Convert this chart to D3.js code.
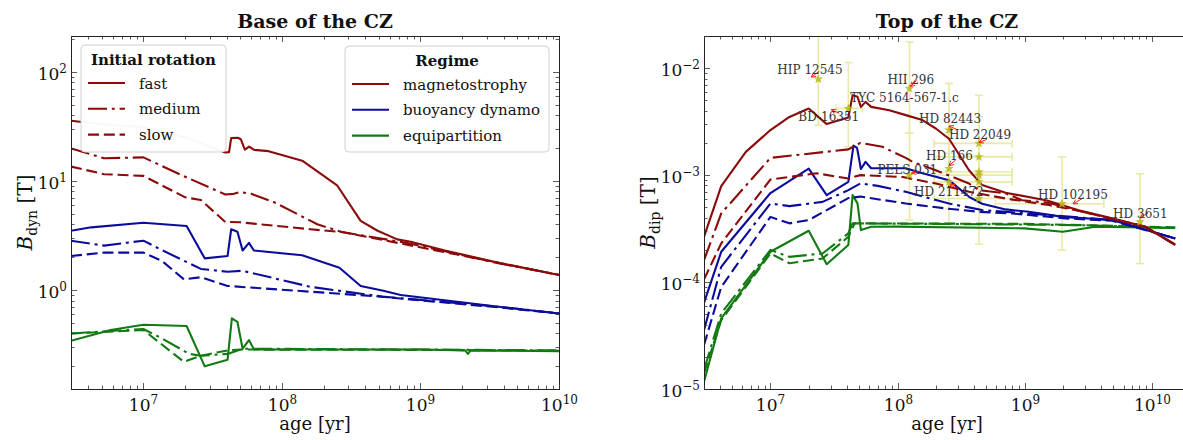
<!DOCTYPE html>
<html><head><meta charset="utf-8">
<script src="https://cdn.jsdelivr.net/npm/d3@7"></script>
<style>body{margin:0;background:#fff;} text{font-family:"DejaVu Serif",serif;fill:#111;}</style>
</head><body><svg id="c" width="1183" height="440"></svg>
<script>
// ---------------- DATA ----------------
// Left panel: base of the CZ, B_dyn [T] vs age [yr]
const baseMagFast = [[3e6,35.5],[5e6,33],[1e7,31],[2e7,25],[3.9e7,18.2],[4.15e7,18.3],[4.3e7,24.6],[4.8e7,24.8],[5.05e7,24],[5.4e7,19.3],[5.8e7,20.6],[6.3e7,19.2],[8e7,18.7],[1.4e8,15.3],[2.5e8,9.1],[3.7e8,4.3],[4.9e8,3.49],[6.8e8,2.91],[8.5e8,2.77],[1.5e9,2.3],[3.8e9,1.76],[1e10,1.37]];
const baseMagMed  = [[3e6,19.8],[5.2e6,16.1],[1e7,16.4],[2e7,10.9],[3.9e7,7.5],[4.5e7,7.6],[5e7,7.9],[6e7,7.6],[8.7e7,6.4],[1.8e8,4.0],[2.7e8,3.4],[8e8,2.7],[3.8e9,1.74],[1e10,1.38]];
const baseMagSlow = [[3e6,13.5],[5.2e6,11.5],[1e7,11.1],[2e7,7.06],[2.6e7,6.67],[3.9e7,4.2],[5e7,4.17],[1.6e8,3.6],[2.7e8,3.4],[8e8,2.6],[3.8e9,1.76],[1e10,1.37]];
const baseBuoFast = [[3e6,3.49],[4.2e6,3.75],[1e7,4.13],[2.05e7,3.86],[2.77e7,1.95],[4.05e7,2.05],[4.3e7,3.6],[4.77e7,3.42],[5.2e7,2.3],[5.78e7,2.7],[6.27e7,2.3],[1.4e8,2.08],[2.6e8,1.6],[3.7e8,1.09],[5.4e8,0.985],[7.2e8,0.9],[3.8e9,0.7],[1e10,0.61]];
const baseBuoMed  = [[3e6,2.83],[5.2e6,2.55],[1e7,2.83],[1.36e7,2.32],[2.6e7,1.56],[4.05e7,1.47],[5.2e7,1.5],[1.6e8,1.07],[5.3e8,0.87],[3.8e9,0.7],[1e10,0.61]];
const baseBuoSlow = [[3e6,2.05],[5.2e6,2.2],[1e7,2.2],[1.36e7,1.85],[1.96e7,1.25],[2.6e7,1.31],[4.05e7,1.09],[1.6e8,0.965],[4.6e8,0.88],[3.8e9,0.69],[1e10,0.61]];
const baseEqFast  = [[3e6,0.343],[5.8e6,0.43],[1e7,0.48],[2.05e7,0.468],[2.77e7,0.2],[4.05e7,0.23],[4.35e7,0.55],[4.77e7,0.51],[5.2e7,0.29],[5.78e7,0.348],[6.27e7,0.286],[3e8,0.285],[1e9,0.285],[2.1e9,0.28],[2.2e9,0.26],[2.3e9,0.28],[1e10,0.275]];
const baseEqMed   = [[3e6,0.4],[1e7,0.44],[1.36e7,0.36],[2.14e7,0.26],[2.6e7,0.25],[4.05e7,0.26],[5.2e7,0.29],[1e9,0.285],[1e10,0.28]];
const baseEqSlow  = [[3e6,0.4],[1e7,0.43],[1.96e7,0.22],[2.6e7,0.25],[4.05e7,0.28],[5.2e7,0.285],[1e9,0.283],[1e10,0.278]];

// Right panel: top of the CZ, B_dip [T] vs age [yr]
const topMagFast = [[3e6,2.65e-4],[4.1e6,7.9e-4],[6.4e6,1.65e-3],[1e7,2.64e-3],[1.41e7,3.5e-3],[2e7,4.2e-3],[2.77e7,3.0e-3],[4.1e7,3.46e-3],[4.43e7,5.6e-3],[4.84e7,5.4e-3],[5.15e7,4.35e-3],[5.6e7,4.84e-3],[6.2e7,4.35e-3],[8.6e7,4.05e-3],[1.16e8,3.64e-3],[1.57e8,3.27e-3],[2e8,2.73e-3],[2.54e8,2.19e-3],[3.65e8,1.11e-3],[4.63e8,8.07e-4],[7.08e8,6.84e-4],[1.5e9,5.8e-4],[2.66e9,4.7e-4],[4.87e9,3.94e-4],[8.9e9,3.29e-4],[1.53e10,2.22e-4]];
const topMagMed  = [[3e6,1.6e-4],[4.1e6,4.38e-4],[1e7,1.45e-3],[4.1e7,1.74e-3],[5.1e7,2.0e-3],[7.6e7,1.84e-3],[1.16e8,1.45e-3],[1.31e8,1.33e-3],[2e8,1.11e-3],[3.65e8,8.35e-4],[4.37e8,7.24e-4],[7.08e8,6.75e-4],[9.56e8,5.83e-4],[1.55e9,5.5e-4],[2.66e9,4.65e-4],[4.87e9,3.9e-4],[8.9e9,3.3e-4],[1.53e10,2.25e-4]];
const topMagSlow = [[3e6,1.06e-4],[4.1e6,2.3e-4],[1e7,9.1e-4],[2.3e7,1.04e-3],[4.1e7,9.3e-4],[5.1e7,1.0e-3],[1.1e8,9.6e-4],[2e8,8.35e-4],[3.65e8,6.98e-4],[7.08e8,6.05e-4],[1.55e9,5.25e-4],[2.66e9,4.65e-4],[4.87e9,3.9e-4],[8.9e9,3.3e-4],[1.53e10,2.22e-4]];
const topBuoFast = [[3e6,6.4e-5],[4.1e6,1.92e-4],[1e7,6.8e-4],[2e7,1.15e-3],[2.77e7,6.5e-4],[4.1e7,8.65e-4],[4.5e7,1.89e-3],[4.8e7,1.8e-3],[5.15e7,1.14e-3],[5.6e7,1.33e-3],[6.2e7,1.16e-3],[1.16e8,1.16e-3],[1.57e8,1.04e-3],[2.54e8,8.97e-4],[3.65e8,6.27e-4],[4.63e8,5.4e-4],[7.08e8,4.78e-4],[1.08e9,4.54e-4],[2e9,4.07e-4],[4.87e9,3.8e-4],[1.53e10,2.56e-4]];
const topBuoMed  = [[3e6,3.55e-5],[4.1e6,1.39e-4],[1e7,5.43e-4],[1.41e7,5.13e-4],[2.57e7,5.62e-4],[4.1e7,7.24e-4],[5.1e7,8.36e-4],[7e7,7.93e-4],[1.16e8,6.98e-4],[2.54e8,5.43e-4],[4.63e8,4.71e-4],[1.55e9,4.23e-4],[4.87e9,3.8e-4],[1.53e10,2.56e-4]];
const topBuoSlow = [[3e6,2.58e-5],[4.1e6,9.0e-5],[1e7,4.07e-4],[1.41e7,3.54e-4],[2e7,3.8e-4],[4.1e7,6.1e-4],[5.1e7,6.3e-4],[1.16e8,5.43e-4],[2.39e8,4.88e-4],[4.37e8,4.54e-4],[7.98e8,4.38e-4],[2.09e9,3.94e-4],[4.87e9,3.75e-4],[1.53e10,2.56e-4]];
const topEqFast  = [[3e6,1.17e-5],[4.1e6,4.58e-5],[1e7,1.92e-4],[2e7,3.02e-4],[2.77e7,1.47e-4],[4.1e7,2.22e-4],[4.43e7,6.5e-4],[4.84e7,5.44e-4],[5.15e7,3.06e-4],[6.2e7,3.29e-4],[1e8,3.3e-4],[1e9,3.18e-4],[2e9,2.95e-4],[3.6e9,3.29e-4],[1.53e10,3.2e-4]];
const topEqMed   = [[3e6,1.51e-5],[4.1e6,5.1e-5],[1e7,2.0e-4],[1.41e7,1.72e-4],[2.57e7,1.85e-4],[4.1e7,2.85e-4],[4.43e7,3.54e-4],[1e9,3.45e-4],[3e9,3.4e-4],[1.53e10,3.2e-4]];
const topEqSlow  = [[3e6,1.4e-5],[4.1e6,4.4e-5],[1e7,1.85e-4],[1.41e7,1.5e-4],[2.57e7,1.66e-4],[4.1e7,2.65e-4],[4.6e7,3.54e-4],[1e9,3.5e-4],[3e9,3.4e-4],[1.53e10,3.25e-4]];

// Observed stars (right panel)
const starNames  = ["HIP 12545","BD-16351","TYC 5164-567-1.c","HII 296","PELS 031","HD 82443","HD 166","HD 211472","HD 22049","","","","","","HD 102195","HD 3651"];
const starAge    = [2.38e7, 4.1e7, 4.1e7, 1.24e8, 1.24e8, 2.54e8, 2.54e8, 2.54e8, 4.37e8, 4.37e8, 4.37e8, 4.37e8, 4.37e8, 4.37e8, 1.97e9, 8.1e9];
const starB      = [7.9e-3, 4.2e-3, 4.2e-3, 6.45e-3, 1.0e-3, 2.64e-3, 1.15e-3, 8.6e-4, 1.98e-3, 1.48e-3, 1.07e-3, 1.0e-3, 8.65e-4, 6.05e-4, 5.4e-4, 3.66e-4];
const starBlo    = [2.93e-3, 1.84e-3, null, 2.47e-3, 3.8e-4, 1.1e-3, 4.8e-4, 3.55e-4, 6e-4, 2.26e-4, null, null, null, null, 1.99e-4, 1.49e-4];
const starBhi    = [3e-2, 1.13e-2, null, 1.76e-2, 2.47e-3, 7.2e-3, 2.5e-3, 1.6e-3, 5.6e-3, 3.5e-3, null, null, null, null, 1.48e-3, 1.03e-3];
const starAgeLo  = [null, 3.3e7, null, null, null, null, null, null, 1.94e8, 1.94e8, 1.94e8, 1.94e8, 1.94e8, 1.94e8, 5.9e8, null];
const starAgeHi  = [null, 5.3e7, null, null, null, null, null, null, 7.98e8, 7.98e8, 7.98e8, 7.98e8, 7.98e8, 7.98e8, 4.2e9, null];

// Legend text
const rotationLabels = ["fast","medium","slow"];
const regimeLabels   = ["magnetostrophy","buoyancy dynamo","equipartition"];

// --------------- LAYOUT / STYLE ---------------
// label placement offsets (px from star) and arrow offsets [headDx,headDy,tailDx,tailDy]
const labelOffsets = [[-41,-5],[-50,13],[2,-6],[-22,-5],[-32,-1],[-30,-7],[-23,-9],[-35,14],[-30,-4],null,null,null,null,null,[-24,-5],[-27,-4]];
const arrowOffsets = [[-7,-2,1,-8],[-17,1,-9,5],null,[1,-2,7,-8],[2,-2,10,-4],[0,-4,7,-1],[0,-3,7,-9],[1,2,7,6],[0,-1,8,-4],null,null,null,null,null,[11,0,20,-5],[0,-4,8,-9]];

const RED="#8b0a0a", BLUE="#0c0c9c", GREEN="#137a13";
const DASH={fast:null, medium:"19,4.8,3,4.8", slow:"11,4.8"};
const svg=d3.select("#c");

const panels=[
 {x0:71,x1:559,y0:36,y1:389,xd:[3e6,1e10],yd:[0.124,212],title:"Base of the CZ",sub:"dyn",labX:32,
  curves:[[baseMagFast,RED,"fast"],[baseMagMed,RED,"medium"],[baseMagSlow,RED,"slow"],
          [baseBuoFast,BLUE,"fast"],[baseBuoMed,BLUE,"medium"],[baseBuoSlow,BLUE,"slow"],
          [baseEqFast,GREEN,"fast"],[baseEqMed,GREEN,"medium"],[baseEqSlow,GREEN,"slow"]]},
 {x0:704,x1:1190,y0:36,y1:389,xd:[3e6,2e10],yd:[1e-5,2e-2],title:"Top of the CZ",sub:"dip",labX:655,
  curves:[[topMagFast,RED,"fast"],[topMagMed,RED,"medium"],[topMagSlow,RED,"slow"],
          [topBuoFast,BLUE,"fast"],[topBuoMed,BLUE,"medium"],[topBuoSlow,BLUE,"slow"],
          [topEqFast,GREEN,"fast"],[topEqMed,GREEN,"medium"],[topEqSlow,GREEN,"slow"]]}
];

function supText(sel, base, exp, fs, sfs){
  sel.append("tspan").text(base);
  sel.append("tspan").attr("dy",-7).attr("font-size",sfs).text(exp);
}

function starPath(r){
  const pts=[];
  for(let i=0;i<10;i++){const a=-Math.PI/2+i*Math.PI/5, rr=i%2?r*0.42:r; pts.push([rr*Math.cos(a),rr*Math.sin(a)]);}
  return "M"+pts.map(p=>p[0].toFixed(2)+","+p[1].toFixed(2)).join("L")+"Z";
}

panels.forEach((p,pi)=>{
  const xs=d3.scaleLog().domain(p.xd).range([p.x0,p.x1]);
  const ys=d3.scaleLog().domain(p.yd).range([p.y1,p.y0]);
  const cid="clip"+pi;
  svg.append("clipPath").attr("id",cid).append("rect").attr("x",p.x0).attr("y",p.y0).attr("width",p.x1-p.x0).attr("height",p.y1-p.y0);
  const g=svg.append("g").attr("clip-path",`url(#${cid})`);

  if(pi===1){
    const eb=g.append("g").attr("stroke","#e6e69a").attr("stroke-width",1.6).attr("fill","none").attr("opacity",0.85);
    starAge.forEach((a,i)=>{
      const x=xs(a), y=ys(starB[i]);
      if(starBlo[i]!=null){
        const ylo=ys(starBlo[i]), yhi=ys(starBhi[i]);
        eb.append("line").attr("x1",x).attr("x2",x).attr("y1",ylo).attr("y2",yhi);
        eb.append("line").attr("x1",x-4).attr("x2",x+4).attr("y1",ylo).attr("y2",ylo);
        eb.append("line").attr("x1",x-4).attr("x2",x+4).attr("y1",yhi).attr("y2",yhi);
      }
      if(starAgeLo[i]!=null){
        const xl=xs(starAgeLo[i]), xh=xs(starAgeHi[i]);
        eb.append("line").attr("x1",xl).attr("x2",xh).attr("y1",y).attr("y2",y);
        eb.append("line").attr("x1",xl).attr("x2",xl).attr("y1",y-4).attr("y2",y+4);
        eb.append("line").attr("x1",xh).attr("x2",xh).attr("y1",y-4).attr("y2",y+4);
      }
    });
  }

  const line=d3.line().x(d=>xs(d[0])).y(d=>ys(d[1]));
  [6,7,8,3,4,5,0,1,2].forEach(k=>{
    const c=p.curves[k];
    g.append("path").attr("d",line(c[0])).attr("fill","none").attr("stroke",c[1]).attr("stroke-width",2.1)
      .attr("stroke-linejoin","round").attr("stroke-dasharray",DASH[c[2]]);
  });

  if(pi===1){
    const sg=g.append("g");
    starAge.forEach((a,i)=>{
      const x=xs(a), y=ys(starB[i]);
      if(starNames[i]!=="TYC 5164-567-1.c")
        sg.append("path").attr("d",starPath(5)).attr("transform",`translate(${x},${y})`).attr("fill","#bdbd1e").attr("opacity",0.9);
    });
    starAge.forEach((a,i)=>{
      const x=xs(a), y=ys(starB[i]);
      const ao=arrowOffsets[i];
      if(ao){
        const hx=x+ao[0],hy=y+ao[1],tx=x+ao[2],ty=y+ao[3];
        const ang=Math.atan2(hy-ty,hx-tx), L=5;
        sg.append("path").attr("d",`M${tx},${ty}L${hx},${hy}M${hx-L*Math.cos(ang-0.5)},${hy-L*Math.sin(ang-0.5)}L${hx},${hy}L${hx-L*Math.cos(ang+0.5)},${hy-L*Math.sin(ang+0.5)}`)
          .attr("stroke","#ff2020").attr("stroke-width",1).attr("fill","none");
      }
      const lo=labelOffsets[i];
      if(lo && starNames[i]){
        sg.append("text").attr("x",x+lo[0]).attr("y",y+lo[1]).attr("font-size",12).style("fill","#333").text(starNames[i]);
      }
    });
  }

  svg.append("rect").attr("x",p.x0+0.5).attr("y",p.y0+0.5).attr("width",p.x1-p.x0).attr("height",p.y1-p.y0)
     .attr("fill","none").attr("stroke","#222").attr("stroke-width",1);

  const tk=svg.append("g").attr("stroke","#333").attr("stroke-width",0.8);
  xs.ticks().forEach(v=>{
    const x=Math.round(xs(v))+0.5; const lg=Math.log10(v), major=Math.abs(lg-Math.round(lg))<1e-9, L=major?6:3.5;
    if(v<p.xd[0]*0.999||v>p.xd[1]*1.001) return;
    tk.append("line").attr("x1",x).attr("x2",x).attr("y1",p.y1).attr("y2",p.y1-L);
    tk.append("line").attr("x1",x).attr("x2",x).attr("y1",p.y0).attr("y2",p.y0+L);
    if(major){
      const t=svg.append("text").attr("x",x).attr("y",p.y1+22).attr("text-anchor","middle").attr("font-size",17);
      supText(t,"10",String(Math.round(lg)).replace("-","\u2212"),17,12);
    }
  });
  ys.ticks().forEach(v=>{
    const y=Math.round(ys(v))+0.5; const lg=Math.log10(v), major=Math.abs(lg-Math.round(lg))<1e-9, L=major?6:3.5;
    if(v<p.yd[0]*0.999||v>p.yd[1]*1.001) return;
    tk.append("line").attr("x1",p.x0).attr("x2",p.x0+L).attr("y1",y).attr("y2",y);
    tk.append("line").attr("x1",p.x1).attr("x2",p.x1-L).attr("y1",y).attr("y2",y);
    if(major){
      const t=svg.append("text").attr("x",p.x0-4).attr("y",y+7).attr("text-anchor","end").attr("font-size",17);
      supText(t,"10",String(Math.round(lg)).replace("-","\u2212"),17,12);
    }
  });

  const cx=(p.x0+p.x1)/2;
  svg.append("text").attr("x",cx).attr("y",28).attr("text-anchor","middle").attr("font-size",19).attr("font-weight","bold").text(p.title);
  svg.append("text").attr("x",cx).attr("y",430).attr("text-anchor","middle").attr("font-size",18).text("age [yr]");
  const yl=svg.append("text").attr("transform",`translate(${p.labX},${(p.y0+p.y1)/2}) rotate(-90)`).attr("text-anchor","middle").attr("font-size",20);
  yl.append("tspan").attr("font-style","italic").text("B");
  yl.append("tspan").attr("font-size",14).attr("dy",5).text(p.sub);
  yl.append("tspan").attr("dy",-5).text(" [T]");
});

// ---------------- LEGENDS ----------------
function legend(x,y,w,h,title,items){
  const g=svg.append("g");
  g.append("rect").attr("x",x).attr("y",y).attr("width",w).attr("height",h).attr("rx",4)
   .attr("fill","#fff").attr("fill-opacity",0.97).attr("stroke","#d0d0d0").attr("stroke-width",1);
  g.append("text").attr("x",x+w/2).attr("y",y+20).attr("text-anchor","middle").attr("font-size",15).attr("font-weight","bold").text(title);
  items.forEach((it,i)=>{
    const ly=y+38+i*25.8;
    g.append("line").attr("x1",x+7).attr("x2",x+44).attr("y1",ly).attr("y2",ly).attr("stroke",it.c).attr("stroke-width",2.1).attr("stroke-dasharray",it.d);
    g.append("text").attr("x",x+58).attr("y",ly+5.5).attr("font-size",15).text(it.t);
  });
}
legend(81,45,145,107,"Initial rotation",rotationLabels.map(t=>({t,c:RED,d:DASH[t]})));
legend(345,46,204,106,"Regime",regimeLabels.map((t,i)=>({t,c:[RED,BLUE,GREEN][i],d:null})));
</script></body></html>
